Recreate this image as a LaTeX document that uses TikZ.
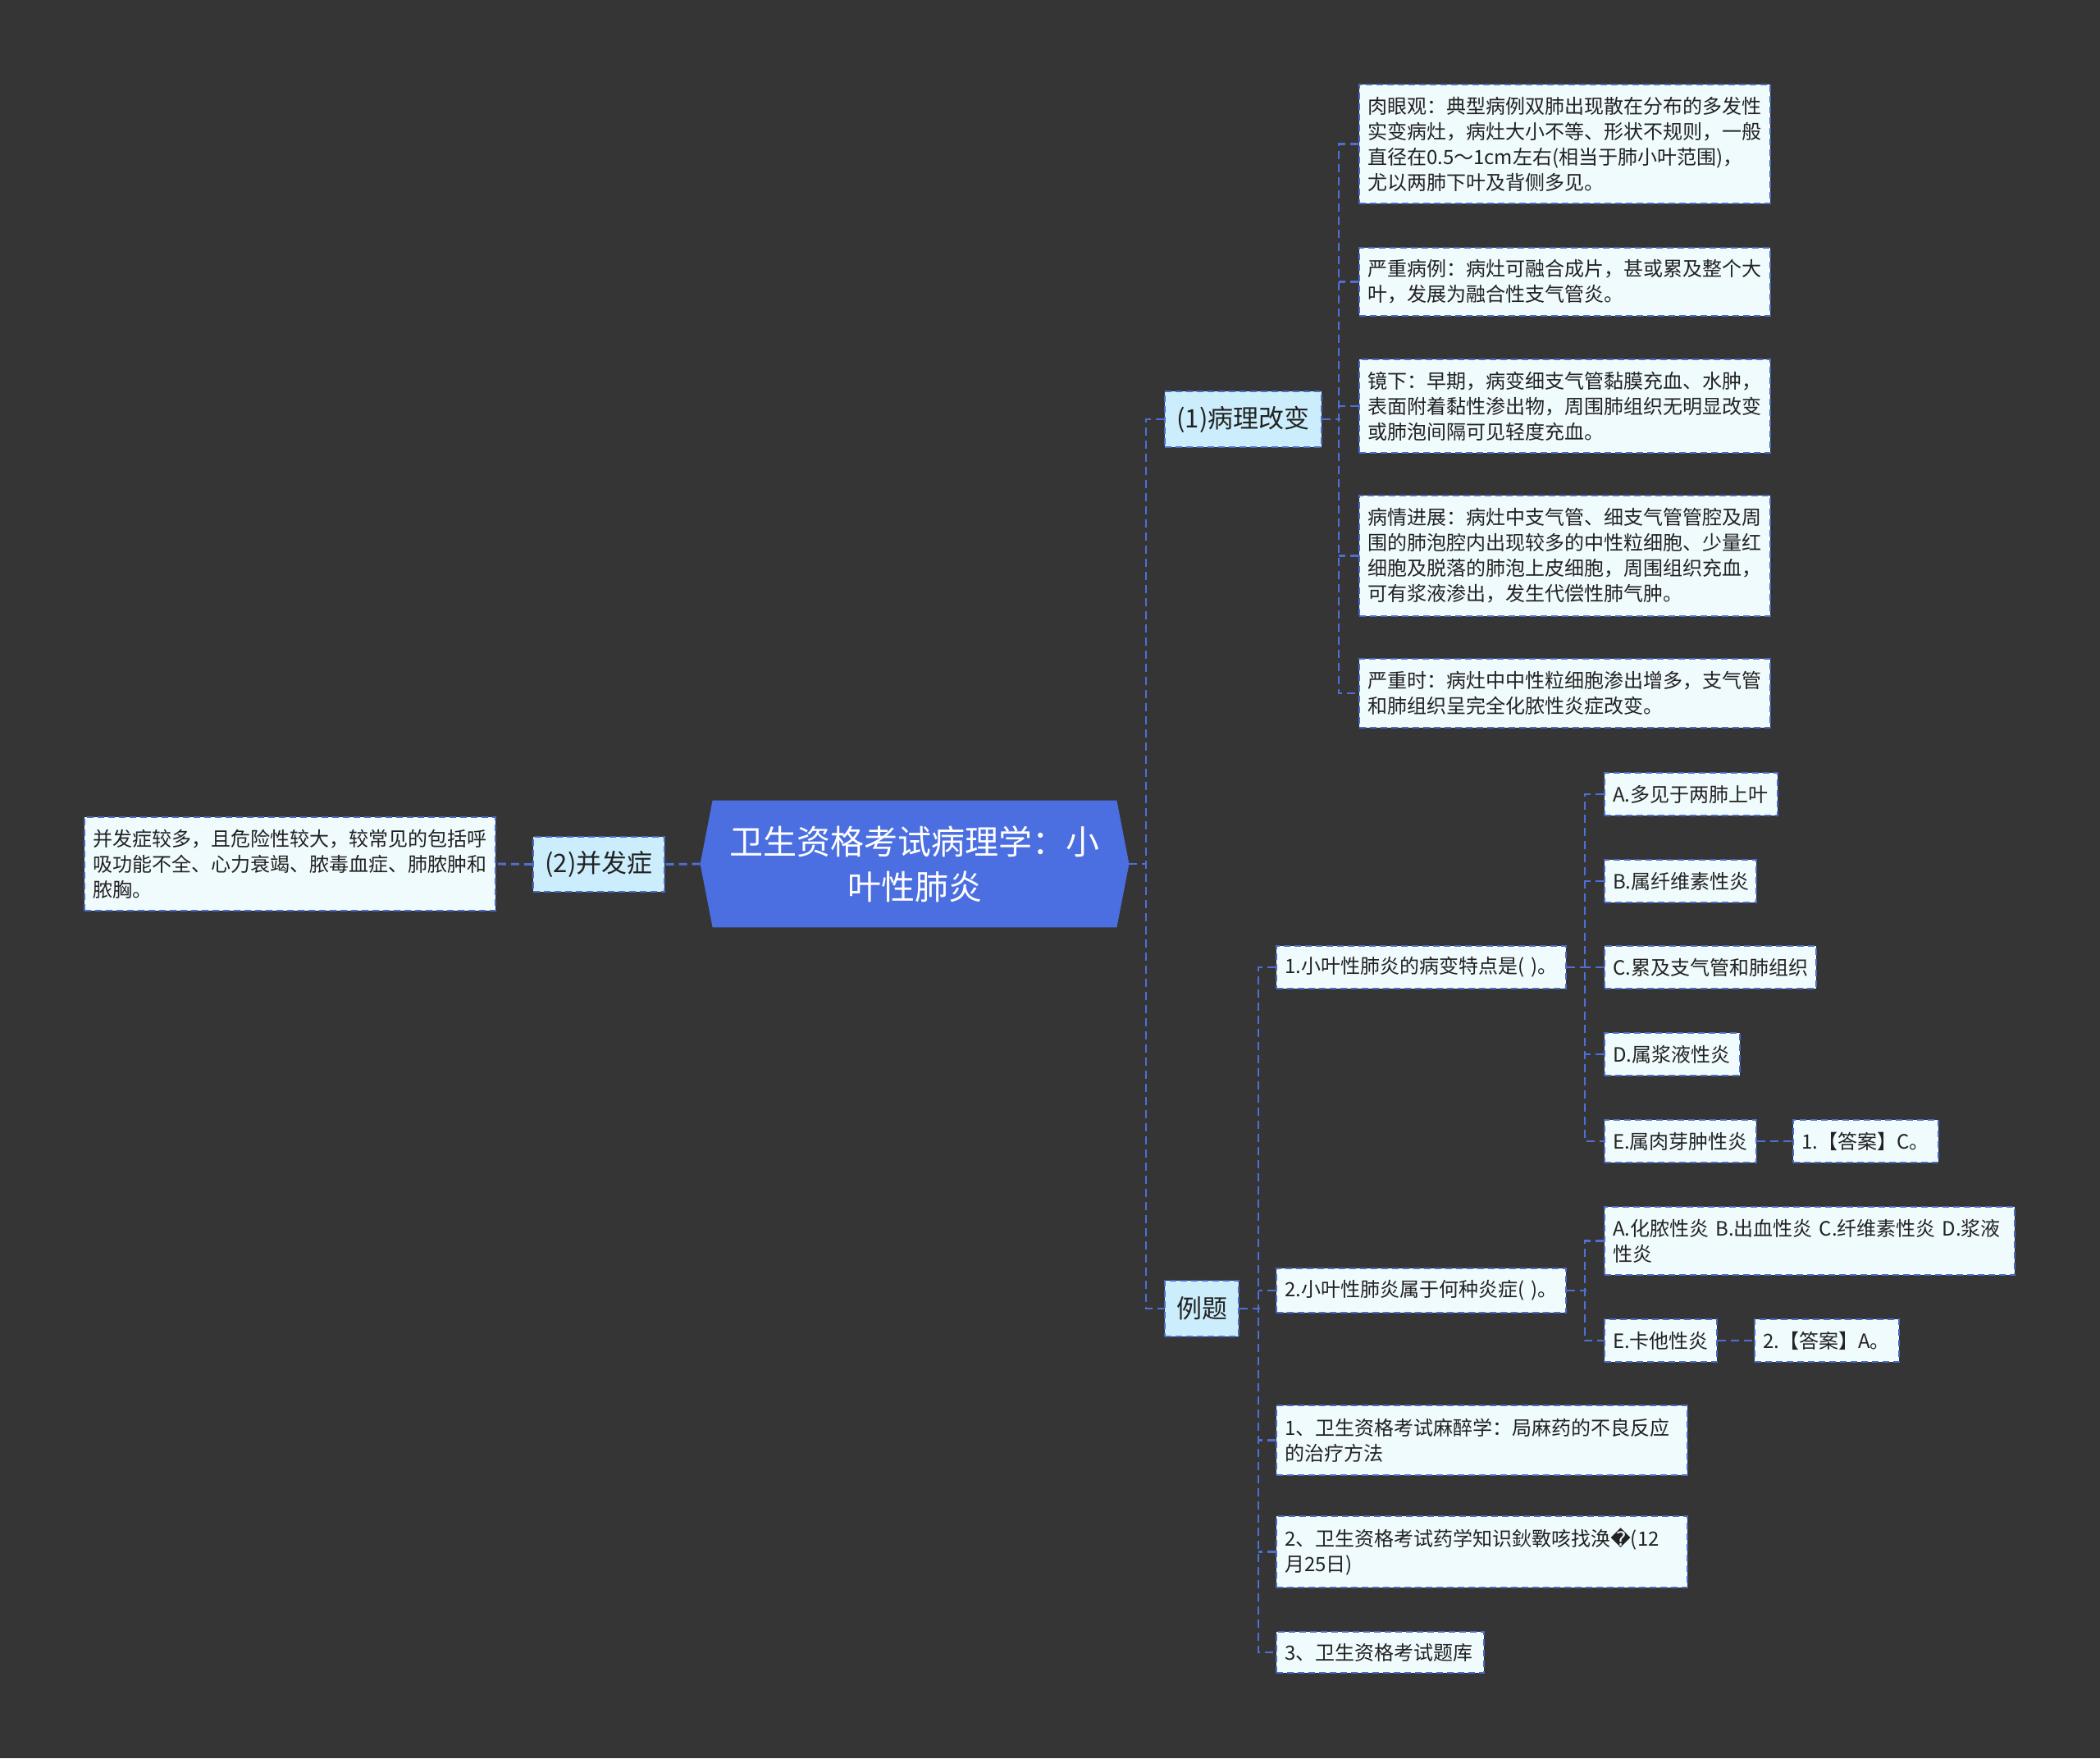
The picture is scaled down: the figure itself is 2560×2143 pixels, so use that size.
\documentclass[tikz,border=0pt]{standalone}
\usepackage{fontspec}
\setmainfont{Noto Sans CJK SC}
\newfontfamily\dejavu{DejaVu Sans}
\usetikzlibrary{backgrounds}
\definecolor{bgc}{HTML}{363536}
\definecolor{linkc}{HTML}{4F6FD6}
\definecolor{bordc}{HTML}{4A6BC8}
\definecolor{leaffill}{HTML}{F0FBFD}
\definecolor{midfill}{HTML}{CCEEFC}
\definecolor{rootc}{HTML}{4B6EE1}
\definecolor{textc}{HTML}{222222}
\tikzset{
  conn/.style={draw=linkc, line width=1.4pt, dash pattern=on 5pt off 3pt},
  leafbox/.style={draw=bordc, fill=leaffill, line width=1.1pt, dash pattern=on 4pt off 2.5pt,
    font=\fontsize{12}{15.5}\selectfont, text=textc, inner xsep=5pt, inner ysep=0pt, align=left},
  midbox/.style={draw=bordc, fill=midfill, line width=1.1pt, dash pattern=on 4pt off 2.5pt,
    font=\fontsize{15.5}{20}\selectfont, text=textc, inner xsep=3pt, inner ysep=0pt, align=center},
  rootbox/.style={font=\fontsize{20.5}{27.5}\selectfont, text=white, align=center, inner sep=0pt}
}
\begin{document}
\begin{tikzpicture}[x=0.5pt,y=-0.5pt]
\begin{pgfonlayer}{background}
\fill[bgc] (0,0) rectangle (2560,2143);
\end{pgfonlayer}
\useasboundingbox (0,0) rectangle (2560,2143);

% root
\node[rootbox, minimum width=261pt, minimum height=77pt] (root) at (1115,1053) {卫生资格考试病理学：小\\叶性肺炎};
\begin{pgfonlayer}{background}
\fill[rootc] (root.west) -- ([xshift=7.5pt]root.north west) -- ([xshift=-7.5pt]root.north east) -- (root.east)
  -- ([xshift=-7.5pt]root.south east) -- ([xshift=7.5pt]root.south west) -- cycle;
\end{pgfonlayer}

% level 2
\node[midbox, minimum width=80pt, minimum height=33.5pt] (comp) at (730,1053.5) {(2)并发症};
\node[midbox, minimum width=95.5pt, minimum height=34pt] (patho) at (1515.5,511) {(1)病理改变};
\node[midbox, minimum width=45pt, minimum height=34pt] (exam) at (1465,1595) {例题};

% left leaf
\node[leafbox, text width=240.5pt, minimum height=57pt] (lleaf) at (353.5,1053) {并发症较多，且危险性较大，较常见的包括呼\\吸功能不全、心力衰竭、脓毒血症、肺脓肿和\\脓胸。};

% pathology leaves
\node[leafbox, text width=240.5pt, minimum height=72.5pt] (p1) at (1907.5,175.5) {肉眼观：典型病例双肺出现散在分布的多发性\\实变病灶，病灶大小不等、形状不规则，一般\\直径在0.5～1cm左右(相当于肺小叶范围)，\\尤以两肺下叶及背侧多见。};
\node[leafbox, text width=240.5pt, minimum height=41.5pt] (p2) at (1907.5,343.5) {严重病例：病灶可融合成片，甚或累及整个大\\叶，发展为融合性支气管炎。};
\node[leafbox, text width=240.5pt, minimum height=57pt] (p3) at (1907.5,495) {镜下：早期，病变细支气管黏膜充血、水肿，\\表面附着黏性渗出物，周围肺组织无明显改变\\或肺泡间隔可见轻度充血。};
\node[leafbox, text width=240.5pt, minimum height=73.5pt] (p4) at (1907.5,677.5) {病情进展：病灶中支气管、细支气管管腔及周\\围的肺泡腔内出现较多的中性粒细胞、少量红\\细胞及脱落的肺泡上皮细胞，周围组织充血，\\可有浆液渗出，发生代偿性肺气肿。};
\node[leafbox, text width=240.5pt, minimum height=42pt] (p5) at (1907.5,845) {严重时：病灶中中性粒细胞渗出增多，支气管\\和肺组织呈完全化脓性炎症改变。};

% example items
\node[leafbox, text width=166.5pt, minimum height=26pt] (q1) at (1732.5,1179) {1.小叶性肺炎的病变特点是(~)。};
\node[leafbox, text width=166.5pt, minimum height=27pt] (q2) at (1732.5,1573) {2.小叶性肺炎属于何种炎症(~)。};
\node[leafbox, text width=240.5pt, minimum height=42.5pt] (r1) at (1806.5,1755.5) {1、卫生资格考试麻醉学：局麻药的不良反应\\的治疗方法};
\node[leafbox, text width=240.5pt, minimum height=43.5pt] (r2) at (1806.5,1891.5) {2、卫生资格考试药学知识鈥斁咳找涣{\dejavu\char"FFFD}(12\\月25日)};
\node[leafbox, text width=116.5pt, minimum height=25pt] (r3) at (1682.5,2014) {3、卫生资格考试题库};

% q1 options
\node[leafbox, text width=95.5pt, minimum height=26pt] (oA) at (2061.5,968) {A.多见于两肺上叶};
\node[leafbox, text width=82.5pt, minimum height=26pt] (oB) at (2048.5,1074) {B.属纤维素性炎};
\node[leafbox, text width=119pt, minimum height=26pt] (oC) at (2085,1179) {C.累及支气管和肺组织};
\node[leafbox, text width=72.5pt, minimum height=26pt] (oD) at (2038.5,1285) {D.属浆液性炎};
\node[leafbox, text width=82.5pt, minimum height=26pt] (oE) at (2048.5,1391) {E.属肉芽肿性炎};
\node[leafbox, text width=78.5pt, minimum height=26pt] (a1) at (2274.5,1391) {1.【答案】C。};

% q2 options
\node[leafbox, text width=240pt, minimum height=41.5pt] (qa) at (2206,1512.5) {A.化脓性炎 B.出血性炎 C.纤维素性炎 D.浆液\\性炎};
\node[leafbox, text width=58.5pt, minimum height=26pt] (qe) at (2024.5,1634) {E.卡他性炎};
\node[leafbox, text width=78pt, minimum height=26pt] (a2) at (2227,1634) {2.【答案】A。};

% connectors
\draw[conn] (root.west) -- (comp.east);
\draw[conn] (comp.west) -- (lleaf.east);
\draw[conn] (root.east) -- ++(22,0);
\draw[conn] (patho.west) -- ++(-22,0) |- (exam.west);

\draw[conn] (patho.east) -- ++(22,0);
\draw[conn] (p1.west) -- ++(-24,0) |- (p5.west);
\draw[conn] (p2.west) -- ++(-24,0);
\draw[conn] (p3.west) -- ++(-24,0);
\draw[conn] (p4.west) -- ++(-24,0);

\draw[conn] (exam.east) -- ++(25,0);
\draw[conn] (q1.west) -- ++(-21,0) |- (r3.west);
\draw[conn] (q2.west) -- ++(-21,0);
\draw[conn] (r1.west) -- ++(-21,0);
\draw[conn] (r2.west) -- ++(-21,0);

\draw[conn] (q1.east) -- ++(24,0);
\draw[conn] (oA.west) -- ++(-23,0) |- (oE.west);
\draw[conn] (oB.west) -- ++(-23,0);
\draw[conn] (oC.west) -- ++(-23,0);
\draw[conn] (oD.west) -- ++(-23,0);
\draw[conn] (oE.east) -- (a1.west);

\draw[conn] (q2.east) -- ++(24,0);
\draw[conn] (qa.west) -- ++(-23,0) |- (qe.west);
\draw[conn] (qe.east) -- (a2.west);
\end{tikzpicture}
\end{document}
